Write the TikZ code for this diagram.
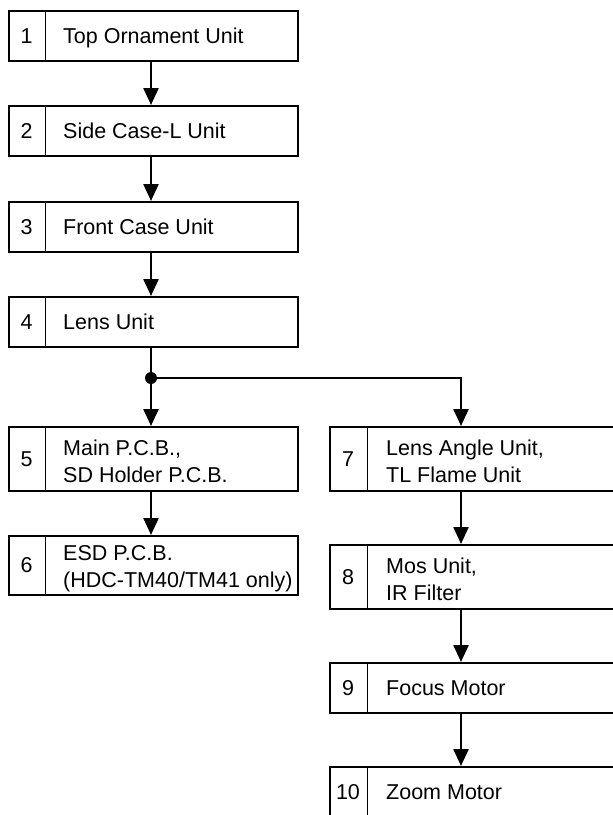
\documentclass[tikz,border=0pt]{standalone}
\usepackage{fontspec}
\setmainfont{Liberation Sans}
\usetikzlibrary{arrows.meta}
\begin{document}
\begin{tikzpicture}[x=1pt,y=-1pt,
 box/.style={draw, line width=1.6pt, rectangle, inner sep=0pt, anchor=north west, minimum width=289pt},
 div/.style={line width=1pt},
 num/.style={inner sep=0pt, font=\fontsize{21.5}{27}\selectfont},
 lbl/.style={inner sep=0pt, align=left, anchor=west, font=\fontsize{21.5}{27}\selectfont},
 arr/.style={line width=2.4pt, -{Triangle[length=17pt,width=15pt]}},
 conn/.style={line width=2.4pt}]
\useasboundingbox (0,0) rectangle (613,815);
\clip (0,0) rectangle (613,815);
\coordinate (lc) at (151,0);
\coordinate (rc) at (461,0);
% left column boxes
\node[box, minimum height=50pt] (b1) at (8,10) {};
\node[box, minimum height=50pt] (b2) at (8,105) {};
\node[box, minimum height=50pt] (b3) at (8,201) {};
\node[box, minimum height=50pt] (b4) at (8,296) {};
\node[box, minimum height=64pt] (b5) at (8,426) {};
\node[box, minimum height=59pt] (b6) at (8,535) {};
% right column boxes
\node[box, minimum height=64pt] (b7) at (329,426) {};
\node[box, minimum height=64pt] (b8) at (329,544) {};
\node[box, minimum height=50pt] (b9) at (329,662) {};
\node[box, minimum height=70pt] (b10) at (329,766) {};
% dividers
\foreach \b in {b1,b2,b3,b4,b5,b6}{
  \draw[div] ([xshift=37pt]\b.north west) -- ([xshift=37pt]\b.south west);
}
\foreach \b in {b7,b8,b9,b10}{
  \draw[div] ([xshift=38pt]\b.north west) -- ([xshift=38pt]\b.south west);
}
% numbers
\node[num] (n1) at ([xshift=18.5pt]b1.west) {1};
\node[num] (n2) at ([xshift=18.5pt]b2.west) {2};
\node[num] (n3) at ([xshift=18.5pt]b3.west) {3};
\node[num] (n4) at ([xshift=18.5pt]b4.west) {4};
\node[num] (n5) at ([xshift=18.5pt]b5.west) {5};
\node[num] (n6) at ([xshift=18.5pt]b6.west) {6};
\node[num] (n7) at ([xshift=19pt]b7.west) {7};
\node[num] (n8) at ([xshift=19pt]b8.west) {8};
\node[num] (n9) at ([xshift=19pt]b9.west) {9};
\node[num] (n10) at ([xshift=19pt,yshift=10pt]b10.west) {10};
% labels
\node[lbl, anchor=base west] (t1) at ([xshift=55pt,yshift=-7.5pt]b1.west) {Top Ornament Unit};
\node[lbl, anchor=base west] (t2) at ([xshift=55pt,yshift=-7.5pt]b2.west) {Side Case-L Unit};
\node[lbl, anchor=base west] (t3) at ([xshift=55pt,yshift=-7.5pt]b3.west) {Front Case Unit};
\node[lbl, anchor=base west] (t4) at ([xshift=55pt,yshift=-7.5pt]b4.west) {Lens Unit};
\node[lbl] (t5) at ([xshift=55pt,yshift=-3pt]b5.west) {Main P.C.B.,\\SD Holder P.C.B.};
\node[lbl] (t6) at ([xshift=55pt,yshift=-3pt]b6.west) {ESD P.C.B.\\(HDC-TM40/TM41 only)};
\node[lbl] (t7) at ([xshift=57pt,yshift=-3pt]b7.west) {Lens Angle Unit,\\TL Flame Unit};
\node[lbl] (t8) at ([xshift=57pt,yshift=-3pt]b8.west) {Mos Unit,\\IR Filter};
\node[lbl, anchor=base west] (t9) at ([xshift=57pt,yshift=-7.5pt]b9.west) {Focus Motor};
\node[lbl, anchor=base west] (t10) at ([xshift=57pt,yshift=2.5pt]b10.west) {Zoom Motor};
% connectors
\draw[arr] (b1.south -| lc) -- (b2.north -| lc);
\draw[arr] (b2.south -| lc) -- (b3.north -| lc);
\draw[arr] (b3.south -| lc) -- (b4.north -| lc);
\coordinate (j) at (151,378);
\draw[conn] (b4.south -| lc) -- (j);
\draw[arr] (j) -- (b5.north -| lc);
\draw[arr] (j) -- (j -| rc) -- (b7.north -| rc);
\fill (j) circle (6pt);
\draw[arr] (b5.south -| lc) -- (b6.north -| lc);
\draw[arr] (b7.south -| rc) -- (b8.north -| rc);
\draw[arr] (b8.south -| rc) -- (b9.north -| rc);
\draw[arr] (b9.south -| rc) -- (b10.north -| rc);
\end{tikzpicture}
\end{document}
